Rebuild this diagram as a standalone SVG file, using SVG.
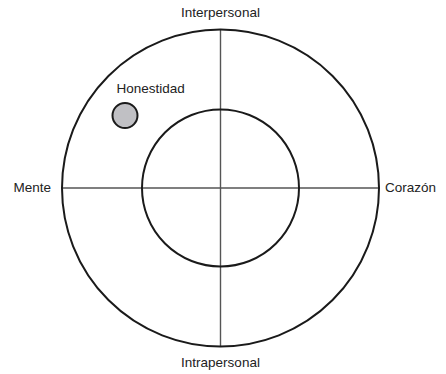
<svg xmlns="http://www.w3.org/2000/svg" width="446" height="374" viewBox="0 0 446 374">
<style>
text{font-family:"Liberation Sans",Arial,sans-serif;font-size:13.5px;fill:#222}
.ring{fill:none;stroke:#1a1a1a;stroke-width:2}
.axis{stroke:#555;stroke-width:1.4}
</style>
<rect width="446" height="374" fill="#fff"/>
<g id="connectors">
<line class="axis" x1="62" y1="188" x2="379" y2="188"/>
<line class="axis" x1="220.5" y1="30" x2="220.5" y2="346"/>
</g>
<g id="outer"><circle class="ring" cx="220.5" cy="188" r="158.5"/></g>
<g id="inner"><circle class="ring" cx="220.5" cy="188" r="78.5"/></g>
<g id="honestidad">
<circle cx="125" cy="115.5" r="12.5" fill="#c0c0c4" stroke="#1a1a1a" stroke-width="2"/>
<text x="116.5" y="93">Honestidad</text>
</g>
<g id="interpersonal"><text x="220.5" y="17" text-anchor="middle">Interpersonal</text></g>
<g id="intrapersonal"><text x="220.5" y="367" text-anchor="middle">Intrapersonal</text></g>
<g id="mente"><text x="51" y="192" text-anchor="end">Mente</text></g>
<g id="corazon"><text x="385" y="192">Corazón</text></g>
</svg>
